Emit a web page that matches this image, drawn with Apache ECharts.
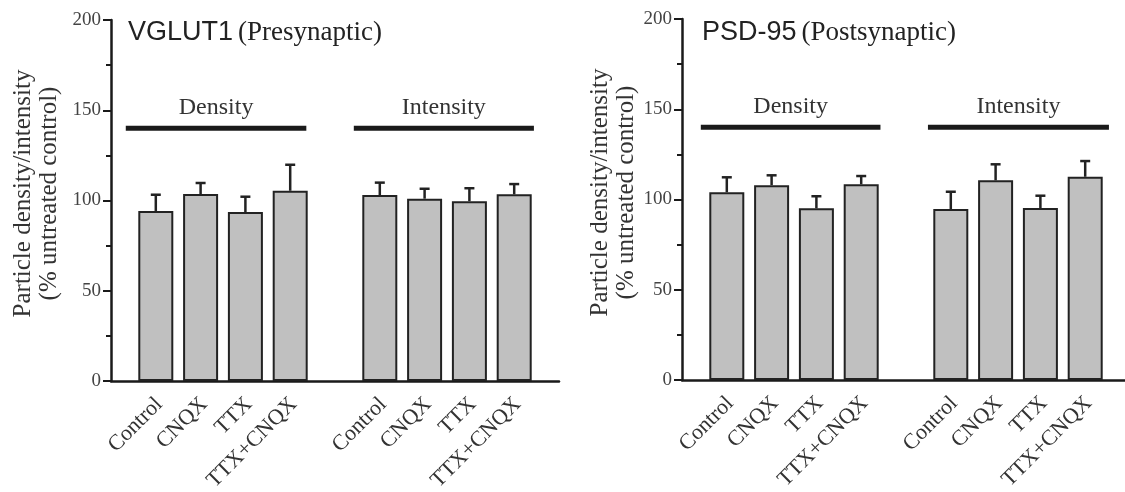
<!DOCTYPE html>
<html>
<head>
<meta charset="utf-8">
<script src="https://cdn.jsdelivr.net/npm/echarts@6/dist/echarts.min.js"></script>
<style>html,body{margin:0;padding:0;background:#fff;}#c{width:1125px;height:492px;}</style>
</head>
<body>
<div id="c"></div>
<script>
// ---- data ----
const categories = ['Control', 'CNQX', 'TTX', 'TTX+CNQX'];
const groupNames = ['Density', 'Intensity'];
const xPositions = [1, 2, 3, 4, 6, 7, 8, 9];
const xLabels = ['Control', 'CNQX', 'TTX', 'TTX+CNQX', 'Control', 'CNQX', 'TTX', 'TTX+CNQX'];
const vglutMean = [94.2, 103.6, 93.6, 105.4, 103.0, 101.0, 99.6, 103.4];
const vglutErr = [9.0, 6.1, 8.5, 14.4, 6.9, 5.5, 7.2, 5.7];
const psdMean = [104.0, 107.9, 95.1, 108.4, 94.7, 110.6, 95.3, 112.6];
const psdErr = [8.3, 5.5, 6.7, 4.6, 9.6, 8.9, 6.8, 8.7];
const bracketLevel = 140;
const vglutBrackets = [[0.33, 4.36], [5.42, 9.44]];
const psdBrackets = [[0.42, 4.43], [5.49, 9.53]];
const yMin = 0, yMax = 200, yInterval = 50;
const titles = [['VGLUT1', '(Presynaptic)'], ['PSD-95', '(Postsynaptic)']];
const yName = 'Particle density/intensity\n(% untreated control)';

// ---- chart ----
const SERIF = "'Liberation Serif', 'Times New Roman', serif";
const SANS = "'Liberation Sans', Arial, sans-serif";
const chart = echarts.init(document.getElementById('c'), null, {renderer: 'canvas'});

function xAxisCfg(gi) {
  return {
    type: 'value', gridIndex: gi, min: 0, max: 10, interval: 1,
    axisLine: {show: true, lineStyle: {color: '#1a1a1a', width: 2.5}},
    axisTick: {show: false},
    splitLine: {show: false},
    axisLabel: {
      show: true, rotate: 45, margin: 8, interval: 0, hideOverlap: false,
      fontFamily: SERIF, fontSize: 22, color: '#333',
      align: 'right', verticalAlign: 'top', padding: [0, 6, 0, 0],
      formatter: function (v) {
        const i = xPositions.indexOf(Math.round(v));
        return (i >= 0 && Math.abs(v - xPositions[i]) < 1e-6) ? xLabels[i] : '';
      }
    }
  };
}
function yAxisCfg(gi, gap) {
  return {
    type: 'value', gridIndex: gi, min: yMin, max: yMax, interval: yInterval,
    name: yName, nameLocation: 'middle', nameGap: gap, nameRotate: 90,
    nameTextStyle: {fontFamily: SERIF, fontSize: 25, lineHeight: 26, color: '#333', padding: [0, 0, 0, 14]},
    axisLine: {show: true, lineStyle: {color: '#1a1a1a', width: 2.5}},
    axisTick: {show: true, inside: false, length: 8, lineStyle: {color: '#1a1a1a', width: 2}},
    minorTick: {show: true, splitNumber: 2, length: 5, lineStyle: {color: '#1a1a1a', width: 2}},
    splitLine: {show: false},
    axisLabel: {margin: 10, fontFamily: SERIF, fontSize: 19, color: '#444'}
  };
}
function barSeries(gi, mean) {
  return {
    type: 'bar', xAxisIndex: gi, yAxisIndex: gi, barWidth: 35,
    data: xPositions.map((x, i) => [x, mean[i]]),
    itemStyle: {color: '#c0c0c0', borderColor: '#222', borderWidth: 2},
    emphasis: {disabled: true}, z: 2
  };
}
function errSeries(gi, mean, err) {
  return {
    type: 'custom', xAxisIndex: gi, yAxisIndex: gi, z: 1,
    data: xPositions.map((x, i) => [x, mean[i], err[i]]),
    renderItem: function (params, api) {
      const x = api.value(0), m = api.value(1), e = api.value(2);
      const p0 = api.coord([x, m]);
      const p1 = api.coord([x, m + e]);
      const st = {stroke: '#222', lineWidth: 2.5};
      return {type: 'group', children: [
        {type: 'line', shape: {x1: p0[0], y1: p0[1], x2: p1[0], y2: p1[1]}, style: st},
        {type: 'line', shape: {x1: p1[0] - 5, y1: p1[1], x2: p1[0] + 5, y2: p1[1]}, style: st}
      ]};
    }
  };
}
function bracketSeries(gi, spans) {
  return {
    type: 'custom', xAxisIndex: gi, yAxisIndex: gi, z: 3,
    data: spans.map(s => [s[0], s[1], bracketLevel]),
    renderItem: function (params, api) {
      const a = api.coord([api.value(0), api.value(2)]);
      const b = api.coord([api.value(1), api.value(2)]);
      return {type: 'group', children: [
        {type: 'line', shape: {x1: a[0], y1: a[1], x2: b[0], y2: b[1]}, style: {stroke: '#1a1a1a', lineWidth: 5}},
        {type: 'text', style: {text: groupNames[params.dataIndex], x: (a[0] + b[0]) / 2, y: a[1] - 21,
          align: 'center', verticalAlign: 'middle', fontFamily: SERIF, fontSize: 24, fill: '#333'}}
      ]};
    }
  };
}
function titleCfg(t, left) {
  return {
    text: '{a|' + t[0] + '} {b|' + t[1] + '}', left: left, top: 14,
    textStyle: {fontWeight: 'normal', rich: {
      a: {fontFamily: SANS, fontSize: 27, fontWeight: 'normal', color: '#222'},
      b: {fontFamily: SERIF, fontSize: 27, fontWeight: 'normal', color: '#222'}
    }}
  };
}

const option = {
  animation: false,
  backgroundColor: '#fff',
  title: [titleCfg(titles[0], 123), titleCfg(titles[1], 697)],
  grid: [
    {left: 111, top: 20, width: 448, height: 361, containLabel: false, outerBoundsMode: 'none'},
    {left: 682, top: 19, width: 448, height: 361, containLabel: false, outerBoundsMode: 'none'}
  ],
  xAxis: [xAxisCfg(0), xAxisCfg(1)],
  yAxis: [yAxisCfg(0, 49), yAxisCfg(1, 43)],
  series: [
    errSeries(0, vglutMean, vglutErr), barSeries(0, vglutMean), bracketSeries(0, vglutBrackets),
    errSeries(1, psdMean, psdErr), barSeries(1, psdMean), bracketSeries(1, psdBrackets)
  ]
};
chart.setOption(option);
</script>
</body>
</html>
